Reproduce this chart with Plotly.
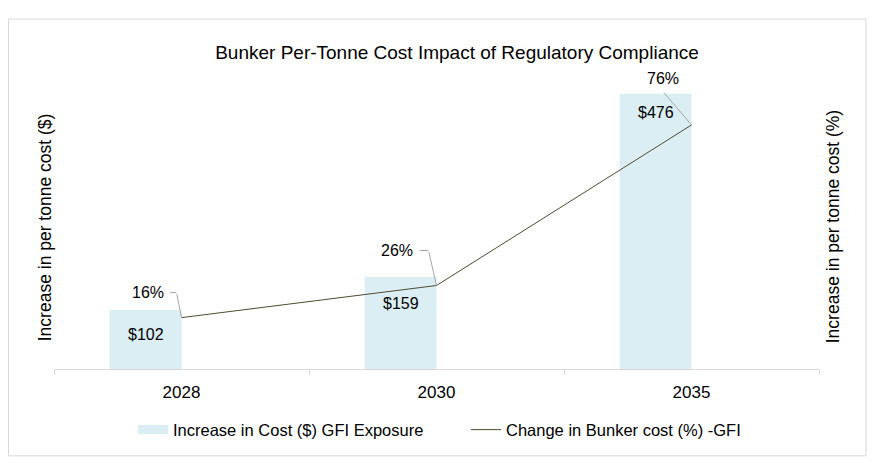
import plotly.graph_objects as go

years = ["2028", "2030", "2035"]
cost_increase = [102, 159, 476]
pct_change = [16, 26, 76]
cost_labels = ["$102", "$159", "$476"]
pct_labels = ["16%", "26%", "76%"]

bar_name = "Increase in Cost ($) GFI Exposure"
line_name = "Change in Bunker cost (%) -GFI"
title = "Bunker Per-Tonne Cost Impact of Regulatory Compliance"
ytitle_left = "Increase in per tonne cost ($)"
ytitle_right = "Increase in per tonne cost (%)"

FONT = "Liberation Sans"
BAR_COLOR = "#daeef3"
LINE_COLOR = "#4f4b33"
LEADER = "#a6a6a6"
GRAY = "#d9d9d9"

OFF = 8  # page body margin
W, H = 869, 460
# plot area in page coordinates: x 54..819, y 79.5..369
ML = 54 - OFF
MT = 79.5 - OFF
MR = W - (819 - OFF)
MB = H - (369 - OFF)
pw, ph = W - ML - MR, H - MT - MB

def px_x(x):
    return (x - OFF - ML) / pw

def px_y(y):
    return (H - MB - (y - OFF)) / ph

fig = go.Figure()
fig.add_trace(go.Bar(
    x=years, y=cost_increase, name=bar_name,
    marker=dict(color=BAR_COLOR, line=dict(width=0)),
    width=0.282, offset=-0.282,
    hoverinfo="skip", showlegend=False,
))
fig.add_trace(go.Scatter(
    x=years, y=pct_change, name=line_name, yaxis="y2",
    mode="lines", line=dict(color=LINE_COLOR, width=1),
    hoverinfo="skip", legend="legend2",
))
# legend swatch for the bars (wide flat rectangle as in the reference)
fig.add_trace(go.Scatter(
    x=[None], y=[None], name=bar_name, mode="lines",
    line=dict(color=BAR_COLOR, width=9), legend="legend",
))

# bar value labels
shifts = [-24, -26, -19]
for i, (yr, v, lab) in enumerate(zip(years, cost_increase, cost_labels)):
    fig.add_annotation(
        x=i - 0.141, y=v, xref="x", yref="y", text=lab, showarrow=False,
        yshift=shifts[i], font=dict(family=FONT, size=16, color="#000000"),
        yanchor="middle",
    )

# percentage labels with elbow leader lines (pixel offsets from the point)
label_shift = [(-34, 25), (-39.5, 35), (-28.5, 46)]
elbow = [(-5, 25), (-8, 35), (-29, 34)]
stub = [8, 10, 0]
for i, (yr, v, lab) in enumerate(zip(years, pct_change, pct_labels)):
    lx, ly = label_shift[i]
    fig.add_annotation(
        x=i, y=v, xref="x", yref="y2", text=lab, showarrow=False,
        xshift=lx, yshift=ly, font=dict(family=FONT, size=16, color="#000000"),
    )
    ex, ey = elbow[i]
    fig.add_annotation(
        x=i, y=v, xref="x", yref="y2", text="", showarrow=True,
        ax=ex, ay=-ey, arrowhead=0, arrowwidth=1, arrowcolor=LEADER,
        standoff=0, startstandoff=0,
    )
    if stub[i]:
        fig.add_annotation(
            x=i, y=v, xref="x", yref="y2", text="", showarrow=True,
            xshift=ex, yshift=ey, ax=-stub[i], ay=0,
            arrowhead=0, arrowwidth=1, arrowcolor=LEADER,
            standoff=0, startstandoff=0,
        )

# axis titles
fig.add_annotation(x=px_x(45), y=px_y(227), xref="paper", yref="paper",
                   xanchor="center", yanchor="middle",
                   text=ytitle_left, textangle=-90, showarrow=False,
                   font=dict(family=FONT, size=17.5, color="#000000"))
fig.add_annotation(x=px_x(833), y=px_y(227), xref="paper", yref="paper",
                   xanchor="center", yanchor="middle",
                   text=ytitle_right, textangle=-90, showarrow=False,
                   font=dict(family=FONT, size=17.5, color="#000000"))

# outer border
fig.add_shape(type="rect", xref="paper", yref="paper",
              x0=px_x(8.5), x1=px_x(866), y0=px_y(456), y1=px_y(18.5),
              line=dict(color=GRAY, width=1), fillcolor="rgba(0,0,0,0)", layer="below")

leg_common = dict(orientation="h", xanchor="left", yanchor="middle",
                  font=dict(family=FONT, size=16.5, color="#000000"),
                  bgcolor="rgba(0,0,0,0)", borderwidth=0)

fig.update_layout(
    width=W, height=H,
    margin=dict(l=ML, r=MR, t=MT, b=MB),
    paper_bgcolor="white", plot_bgcolor="white",
    title=dict(text=title, x=(457 - OFF) / W, xanchor="center",
               y=1 - (52 - OFF) / H, yanchor="middle",
               font=dict(family=FONT, size=19, color="#000000")),
    font=dict(family=FONT, color="#000000"),
    showlegend=True,
    legend=dict(x=px_x(133), y=px_y(430), **leg_common),
    legend2=dict(x=px_x(466), y=px_y(430), **leg_common),
    xaxis=dict(type="category", range=[-0.5, 2.5], showline=True, linecolor=GRAY, linewidth=1,
               ticks="outside", tickson="boundaries", ticklen=5, tickcolor=GRAY,
               ticklabelstandoff=8,
               tickfont=dict(family=FONT, size=17, color="#000000"), showgrid=False,
               zeroline=False, fixedrange=True),
    yaxis=dict(range=[0, 500], showticklabels=False, showgrid=False, zeroline=False,
               showline=False, ticks=""),
    yaxis2=dict(range=[0, 90], overlaying="y", side="right", showticklabels=False,
                showgrid=False, zeroline=False, showline=False, ticks=""),
)

fig.write_html("out.html")
